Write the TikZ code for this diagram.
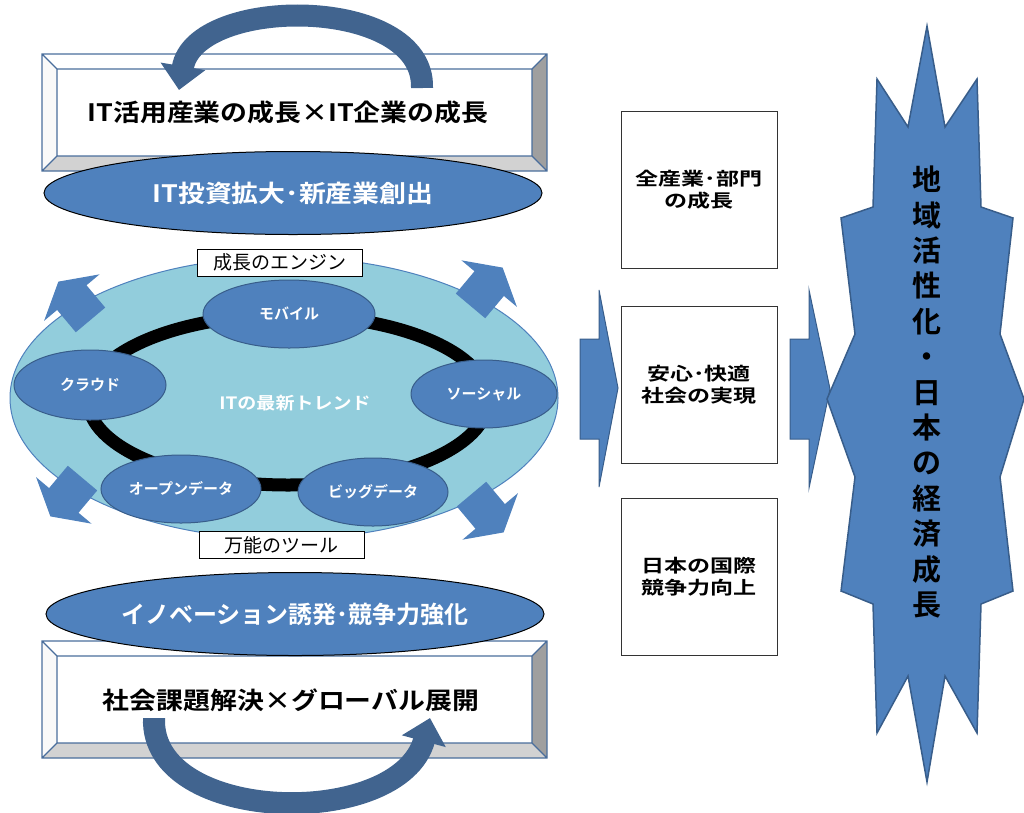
\documentclass[tikz,border=0pt]{standalone}
\usepackage{fontspec}
\setmainfont{Noto Sans CJK JP}[BoldFont={Noto Sans CJK JP Bold}]
\newfontfamily\widebold{Noto Sans CJK JP Bold}[FakeStretch=1.12]
\newfontfamily\extrawide{Noto Sans CJK JP Bold}[FakeStretch=1.28]
\usepackage{tikz}
\usetikzlibrary{positioning, shapes.geometric, shapes.arrows, arrows.meta}
\definecolor{midblue}{HTML}{4F81BD}
\definecolor{darkblue}{HTML}{385D8A}
\definecolor{skyblue}{HTML}{92CDDC}
\definecolor{bevelline}{HTML}{4A6E9C}
\definecolor{curveblue}{HTML}{41648F}

\begin{document}
\begin{tikzpicture}[x=1pt,y=-1pt]

	\tikzstyle{panel} = [ellipse, draw=black, line width=1pt, fill=midblue, inner sep=0pt, text=white, font=\widebold\fontsize{24}{24}\selectfont]
	\tikzstyle{trend} = [ellipse, draw=darkblue, line width=1pt, fill=midblue, inner sep=0pt, text=white, font=\bfseries\fontsize{15}{15}\selectfont]
	\tikzstyle{tag} = [draw=black, fill=white, minimum width=165pt, minimum height=27pt, inner sep=0pt, font=\fontsize{19}{19}\selectfont]
	\tikzstyle{result} = [draw=black!80, fill=white, minimum width=156pt, minimum height=157pt, align=center, font=\extrawide\fontsize{18}{22}\selectfont]
	\tikzstyle{curved} = [line width=22pt, draw=curveblue, -{Triangle[width=44pt,length=24pt]}]
	\tikzstyle{corner} = [single arrow, fill=midblue, inner sep=19pt, single arrow head extend=17pt, single arrow tip angle=120, minimum height=50pt]
	\tikzstyle{block} = [fill=midblue, draw=darkblue, line width=1pt]

	\useasboundingbox (0,0) rectangle (1024,812);

	% bevel boxes
	\foreach \t/\b in {54/171, 641/758}{
		\fill[white] (42,\t) -- (547,\t) -- (532,\t+15) -- (57,\t+15) -- cycle;
		\fill[white!95!gray] (42,\t) -- (57,\t+15) -- (57,\b-15) -- (42,\b) -- cycle;
		\fill[gray!75] (547,\t) -- (532,\t+15) -- (532,\b-15) -- (547,\b) -- cycle;
		\fill[gray!35] (42,\b) -- (57,\b-15) -- (532,\b-15) -- (547,\b) -- cycle;
		\draw[bevelline, line width=1.2pt] (42,\t) rectangle (547,\b) (57,\t+15) rectangle (532,\b-15)
			(42,\t) -- (57,\t+15) (547,\t) -- (532,\t+15) (42,\b) -- (57,\b-15) (547,\b) -- (532,\b-15);
	}
	\node[font=\widebold\fontsize{24}{24}\selectfont] (itgrowth) at (288,112) {IT活用産業の成長×IT企業の成長};
	\node[font=\widebold\fontsize{24}{24}\selectfont] (social) at (291,700) {社会課題解決×グローバル展開};

	\node[panel, minimum width=498pt, minimum height=83pt] (invest) at (293,193) {IT投資拡大･新産業創出};
	\node[panel, font=\bfseries\fontsize{24}{24}\selectfont, minimum width=498pt, minimum height=83pt] (innov) at (295,614) {イノベーション誘発･競争力強化};

	\draw[curved] (422,88) .. controls (425,-5) and (195,-5) .. (179,90);
	\draw[curved] (154,718) .. controls (150,825) and (400,830) .. (430,718);

	% IT trends
	\node[ellipse, fill=skyblue, draw=midblue, line width=1pt, minimum width=548pt, minimum height=282pt] (engine) at (284,398) {};
	\node[ellipse, draw=black, line width=13pt, minimum width=400pt, minimum height=170pt] (ring) at (288,400) {};
	\node[text=white, font=\widebold\fontsize{17}{17}\selectfont] (trendtitle) at (295,403) {ITの最新トレンド};
	\node[trend, minimum width=172pt, minimum height=68pt] (mobile) at (289,314) {モバイル};
	\node[trend, minimum width=152pt, minimum height=70pt] (cloud) at (90,385) {クラウド};
	\node[trend, minimum width=146pt, minimum height=68pt] (sns) at (484,394) {ソーシャル};
	\node[trend, minimum width=160pt, minimum height=68pt] (opendata) at (181,489) {オープンデータ};
	\node[trend, minimum width=150pt, minimum height=68pt] (bigdata) at (373,492) {ビッグデータ};
	\node[tag] (engtag) at (280,262.5) {成長のエンジン};
	\node[tag] (tooltag) at (281.5,545) {万能のツール};
	\node[corner, rotate=130] (ctl) at (78,305) {};
	\node[corner, rotate=50] (ctr) at (483,291) {};
	\node[corner, rotate=-130] (cbl) at (70,493) {};
	\node[corner, rotate=-50] (cbr) at (484,509) {};

	% results
	\node[result] (sector) at (699,190) {全産業･部門\\の成長};
	\node[result] (safety) at (699,385) {安心･快適\\社会の実現};
	\node[result] (compete) at (699,577) {日本の国際\\競争力向上};
	\draw[block] (580,339) -- (599,339) -- (599,290) -- (618,388) -- (599,487) -- (599,439) -- (580,439) -- cycle;
	\draw[block] (790,339) -- (809,339) -- (809,290) -- (830,389) -- (809,488) -- (809,439) -- (790,439) -- cycle;

	\draw[block, line width=1.5pt] (927,26) -- (945,127) -- (977,79) -- (981,207) -- (1013,218) -- (1000,334) -- (1024,399)
		-- (1000,477) -- (1013,591) -- (981,604) -- (977,733) -- (945,676) -- (927,782) -- (908,676) -- (877,733)
		-- (873,604) -- (841,591) -- (855,477) -- (827,399) -- (855,334) -- (841,218) -- (873,207) -- (877,79)
		-- (908,127) -- cycle;
	\node[align=center, font=\bfseries\fontsize{29}{35.4}\selectfont] (goal) at (927,392) {地\\域\\活\\性\\化\\・\\日\\本\\の\\経\\済\\成\\長};

\end{tikzpicture}
\end{document}
